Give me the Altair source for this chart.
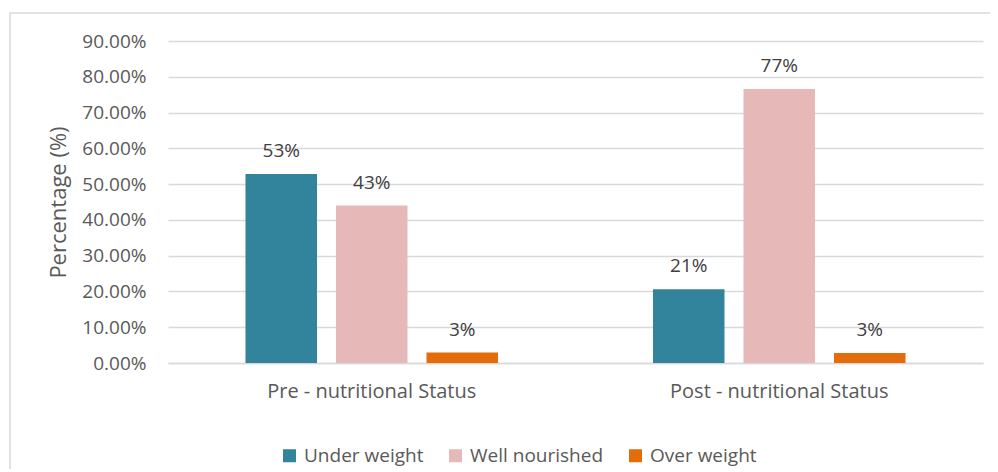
import altair as alt
import pandas as pd

groups = ["Pre - nutritional Status", "Post - nutritional Status"]
categories = ["Under weight", "Well nourished", "Over weight"]
colors = ["#31849B", "#E6B9B8", "#E46C0A"]
pre_values = [0.528, 0.440, 0.029]
post_values = [0.206, 0.766, 0.028]
pre_labels = ["53%", "43%", "3%"]
post_labels = ["21%", "77%", "3%"]
y_ticks = [0.0, 0.1, 0.2, 0.3, 0.4, 0.5, 0.6, 0.7, 0.8, 0.9]

rows = []
for g, vals, labs in [(groups[0], pre_values, pre_labels), (groups[1], post_values, post_labels)]:
    for c, v, l in zip(categories, vals, labs):
        rows.append({"group": g, "category": c, "value": v, "label": l})
df = pd.DataFrame(rows)

FONT = "Open Sans"
W, H = 815, 322

x = alt.X("group:N", sort=groups, title=None,
          scale=alt.Scale(paddingInner=0, paddingOuter=0),
          axis=alt.Axis(labelAngle=0, labelFontSize=20, labelColor="#595959",
                        labelFont=FONT, ticks=False, domain=True, labelLimit=0,
                        domainColor="#D9D9D9", domainWidth=1.5, labelPadding=18))
xo = alt.XOffset("category:N", sort=categories,
                 scale=alt.Scale(paddingInner=0.21, paddingOuter=0.856))
y = alt.Y("value:Q", title="Percentage (%)",
          scale=alt.Scale(domain=[0, 0.9], nice=False),
          axis=alt.Axis(values=y_ticks, format=".2%", labelFontSize=19,
                        labelColor="#595959", labelFont=FONT, ticks=False,
                        labelOverlap=False, labelFlush=False,
                        domain=False, gridColor="#D9D9D9", gridWidth=1.5,
                        labelPadding=22, titleFontSize=22, titleFont=FONT,
                        titleColor="#595959", titleFontWeight="normal",
                        titlePadding=11))
color = alt.Color("category:N", sort=categories,
                  scale=alt.Scale(domain=categories, range=colors),
                  legend=alt.Legend(title=None, orient="none", direction="horizontal",
                                    legendX=112, legendY=405, symbolType="square",
                                    symbolSize=169, symbolStrokeWidth=0,
                                    labelFontSize=19, labelFont=FONT,
                                    labelColor="#595959", columnPadding=22,
                                    labelOffset=5, labelLimit=0))

bars = alt.Chart(df).mark_bar().encode(x=x, xOffset=xo, y=y, color=color)
text = alt.Chart(df).mark_text(fontSize=19, font=FONT, color="#404040",
                                baseline="alphabetic", dy=-17).encode(
    x=x, xOffset=xo, y=y, text="label:N")

frame = alt.Chart(pd.DataFrame({"f": [0]})).mark_rect(
    fill=None, stroke="#D9D9D9", strokeWidth=1.5).encode(
    x=alt.value(-158), x2=alt.value(840), y=alt.value(-28), y2=alt.value(480))

chart = alt.layer(bars, text, frame).properties(
    width=W, height=H,
    background="white",
    autosize=alt.AutoSizeParams(type="none"),
    padding={"left": 160, "top": 33, "right": 7, "bottom": 106},
).configure_view(strokeWidth=0, stroke="transparent")

chart.save("out.html", embed_options={"renderer": "svg", "actions": False})
